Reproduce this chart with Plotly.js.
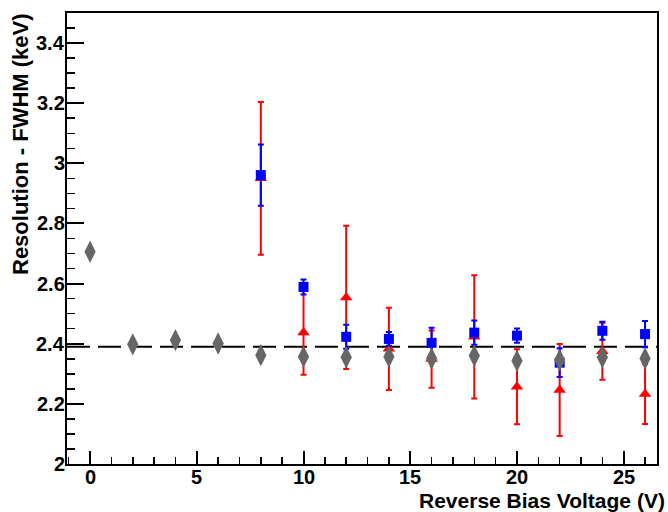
<!DOCTYPE html>
<html>
<head>
<meta charset="utf-8">
<script src="https://cdn.plot.ly/plotly-3.0.1.min.js"></script>
<style>html,body{margin:0;padding:0;background:#fff;}#chart{width:668px;height:512px;}</style>
</head>
<body>
<div id="chart"></div>
<script>
// Data
const voltageAll = [0, 2, 4, 6, 8, 10, 12, 14, 16, 18, 20, 22, 24, 26];
const grayRes = [2.706, 2.398, 2.412, 2.401, 2.362, 2.357, 2.355, 2.357, 2.351, 2.360, 2.343, 2.346, 2.355, 2.351];
const voltageErr = [8, 10, 12, 14, 16, 18, 20, 22, 24, 26];
const blueRes = [2.961, 2.589, 2.423, 2.416, 2.403, 2.437, 2.427, 2.337, 2.443, 2.432];
const blueErr = [0.102, 0.025, 0.040, 0.023, 0.050, 0.040, 0.024, 0.048, 0.030, 0.044];
const redRes = [2.950, 2.437, 2.554, 2.383, 2.349, 2.423, 2.257, 2.246, 2.375, 2.233];
const redErr = [0.254, 0.140, 0.238, 0.137, 0.095, 0.205, 0.125, 0.153, 0.095, 0.100];
const refLevel = 2.39;
const xRange = [-1.08, 26.56];
const yRange = [2, 3.5];
const xTickVals = [0, 5, 10, 15, 20, 25];
const xTickText = ['0', '5', '10', '15', '20', '25'];
const yTickVals = [2, 2.2, 2.4, 2.6, 2.8, 3, 3.2, 3.4];
const yTickText = ['2', '2.2', '2.4', '2.6', '2.8', '3', '3.2', '3.4'];
const xTitle = 'Reverse Bias Voltage (V)';
const yTitle = 'Resolution - FWHM (keV)';

const W = 668, H = 512;
const M = {l: 67, r: 11, t: 13, b: 48};
const PW = W - M.l - M.r, PH = H - M.t - M.b;
const px2paperX = p => (p - M.l) / PW;
const px2paperY = p => (H - M.b - p) / PH;

const fam = 'Liberation Sans, Arial, sans-serif';
const tickFont = {family: fam, size: 20, color: '#000', weight: 700};
const titleFontX = {family: fam, size: 21, color: '#000', weight: 700};
const titleFontY = {family: fam, size: 22, color: '#000', weight: 700};
const b = s => '<b>' + s + '</b>';

const traces = [
  {x: xRange, y: [refLevel, refLevel], mode: 'lines', type: 'scatter',
   line: {color: '#000', width: 2, dash: '23px,8px'}, hoverinfo: 'skip'},
  {x: voltageErr, y: redRes, mode: 'markers', type: 'scatter',
   marker: {symbol: 'triangle-up', size: 11, color: '#ff0000'},
   error_y: {type: 'data', array: redErr, visible: true, color: '#ff0000', thickness: 2, width: 3}},
  {x: voltageErr, y: blueRes, mode: 'markers', type: 'scatter',
   marker: {symbol: 'square', size: 10, color: '#0000ff'},
   error_y: {type: 'data', array: blueErr, visible: true, color: '#0000ff', thickness: 2, width: 3}},
  {x: voltageAll, y: grayRes, mode: 'markers', type: 'scatter',
   marker: {symbol: 'diamond-tall', size: 16, color: '#666666'}}
];

const annotations = [];
xTickVals.forEach((v, i) => annotations.push({
  text: b(xTickText[i]), xref: 'x', yref: 'paper', x: v, y: px2paperY(477),
  xanchor: 'center', yanchor: 'middle', showarrow: false, font: tickFont
}));
yTickVals.forEach((v, i) => annotations.push({
  text: b(yTickText[i]), xref: 'paper', yref: 'y', x: px2paperX(67), y: v,
  xanchor: 'right', yanchor: 'middle', showarrow: false, font: tickFont
}));
annotations.push({text: b(xTitle), xref: 'paper', yref: 'paper',
  x: px2paperX(667), y: px2paperY(500), xanchor: 'right', yanchor: 'middle',
  showarrow: false, font: titleFontX});
annotations.push({text: b(yTitle), xref: 'paper', yref: 'paper',
  x: px2paperX(20), y: px2paperY(11), xanchor: 'center', yanchor: 'top', textangle: -90,
  showarrow: false, font: titleFontY});

const layout = {
  width: W, height: H,
  margin: M,
  paper_bgcolor: '#fff', plot_bgcolor: '#fff',
  showlegend: false,
  xaxis: {
    range: xRange, showgrid: false, zeroline: false,
    showline: true, linecolor: '#000', linewidth: 2, mirror: true,
    ticks: 'inside', ticklen: 13, tickwidth: 2, tickcolor: '#000',
    tickmode: 'array', tickvals: xTickVals, showticklabels: false,
    minor: {dtick: 1, tick0: 0, ticks: 'inside', ticklen: 7, tickwidth: 1.5, tickcolor: '#000', showgrid: false}
  },
  yaxis: {
    range: yRange, showgrid: false, zeroline: false,
    showline: true, linecolor: '#000', linewidth: 2, mirror: true,
    ticks: 'inside', ticklen: 17, tickwidth: 2, tickcolor: '#000',
    tickmode: 'array', tickvals: yTickVals, showticklabels: false,
    minor: {dtick: 0.05, tick0: 2, ticks: 'inside', ticklen: 8, tickwidth: 1.5, tickcolor: '#000', showgrid: false}
  },
  annotations: annotations
};

Plotly.newPlot('chart', traces, layout, {staticPlot: true});
</script>
</body>
</html>
